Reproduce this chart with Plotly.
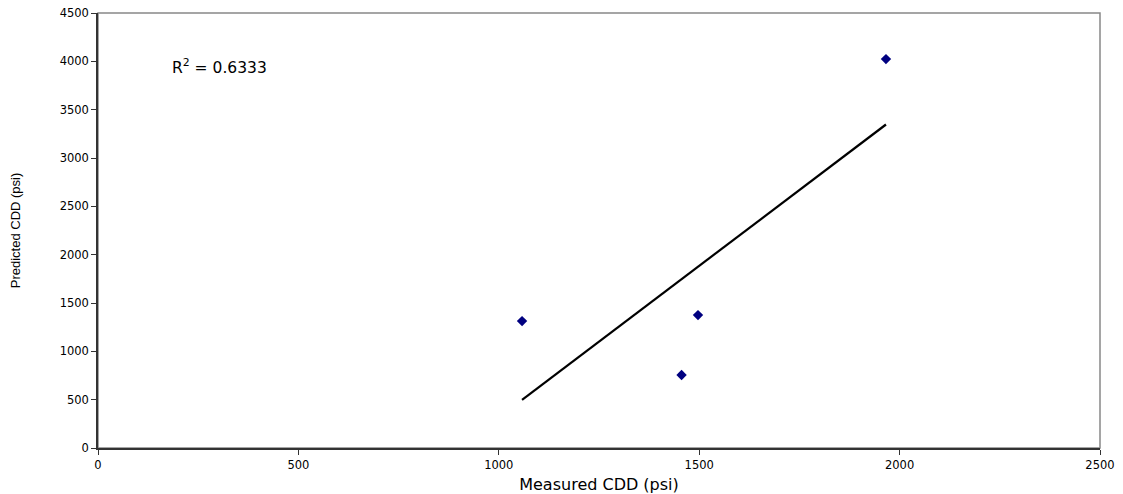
import numpy as np
import plotly.graph_objects as go

measured = [1058, 1456, 1497, 1966]
predicted = [1313, 755, 1375, 4023]
x_ticks = [0, 500, 1000, 1500, 2000, 2500]
y_ticks = [0, 500, 1000, 1500, 2000, 2500, 3000, 3500, 4000, 4500]
r2_text = "R<sup>2</sup> = 0.6333"

slope, intercept = np.polyfit(measured, predicted, 1)
tx = [min(measured), max(measured)]
ty = [slope * v + intercept for v in tx]

fig = go.Figure()
fig.add_trace(go.Scatter(x=tx, y=ty, mode="lines", line=dict(color="black", width=2.2),
                         hoverinfo="skip", showlegend=False))
fig.add_trace(go.Scatter(x=measured, y=predicted, mode="markers",
                         marker=dict(symbol="diamond", color="#000080", size=8),
                         showlegend=False))

fig.add_shape(type="rect", xref="paper", yref="paper", x0=0, y0=0, x1=1, y1=1,
              line=dict(color="#888888", width=1.5), layer="below")

fig.add_annotation(x=180, y=3950, xref="x", yref="y", text=r2_text, showarrow=False,
                   xanchor="left", yanchor="middle",
                   font=dict(family="DejaVu Sans", size=15.5, color="black"))

tickfont = dict(family="DejaVu Sans", size=11.5, color="black")

fig.update_layout(
    width=1123, height=494,
    margin=dict(l=98, r=23, t=13, b=46),
    plot_bgcolor="white", paper_bgcolor="white",
    font=dict(family="DejaVu Sans", size=11, color="black"),
    xaxis=dict(range=[0, 2500], tickvals=x_ticks, showgrid=False, zeroline=False,
               showline=True, linecolor="#333333", linewidth=1.5, automargin=False,
               ticks="outside", ticklen=5, tickcolor="#333333", tickfont=tickfont,
               title=dict(text="Measured CDD (psi)",
                          font=dict(family="DejaVu Sans", size=16, color="black"), standoff=8)),
    yaxis=dict(range=[0, 4500], tickvals=y_ticks, showgrid=False, zeroline=False,
               showline=True, linecolor="#333333", linewidth=1.5, automargin=False,
               ticks="outside", ticklen=5, tickcolor="#333333", tickfont=tickfont,
               title=dict(text="Predicted CDD (psi)", font=dict(size=13, color="black",
                          family="Liberation Sans, Arial"), standoff=36)),
)

fig.write_html("out.html")
